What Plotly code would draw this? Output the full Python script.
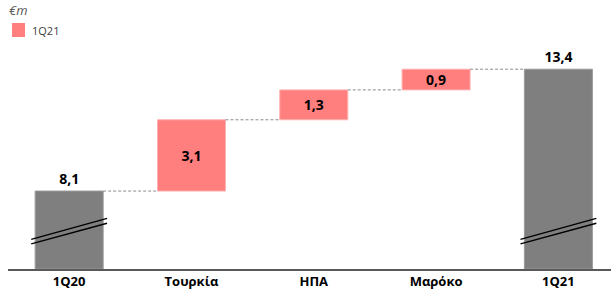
import plotly.graph_objects as go

categories = ["1Q20", "Τουρκία", "ΗΠΑ", "Μαρόκο", "1Q21"]
values = [8.1, 3.1, 1.3, 0.9, 13.4]
measures = ["total", "relative", "relative", "relative", "total"]
legend_name = "1Q21"
unit_label = "€m"

GRAY = "#7f7f7f"
PINK = "#ff7f7f"
FONT = "Open Sans"
BAR_W = 0.556

def fmt(v):
    return f"{v:.1f}".replace(".", ",")

# compute bases / tops
bases, tops = [], []
running = 0.0
for v, m in zip(values, measures):
    if m == "total":
        bases.append(None)
        running = v
        tops.append(v)
    else:
        bases.append(running)
        running = running + v
        tops.append(running)

y_min, y_max = 4.71, 14.67

fig = go.Figure()

tot_idx = [i for i, m in enumerate(measures) if m == "total"]
rel_idx = [i for i, m in enumerate(measures) if m != "total"]

fig.add_trace(go.Bar(
    x=[categories[i] for i in tot_idx],
    y=[values[i] - y_min for i in tot_idx],
    base=[y_min] * len(tot_idx),
    width=BAR_W,
    marker=dict(color=GRAY, line=dict(color="#9a9a9a", width=1)),
    text=[fmt(values[i]) for i in tot_idx],
    textposition="outside",
    textfont=dict(family=FONT, size=14, color="black", weight="bold"),
    cliponaxis=False,
    showlegend=False,
    hoverinfo="skip",
))
fig.add_trace(go.Bar(
    x=[categories[i] for i in rel_idx],
    y=[values[i] for i in rel_idx],
    base=[bases[i] for i in rel_idx],
    width=BAR_W,
    name=legend_name,
    marker=dict(color=PINK, line=dict(color="#ffb0b0", width=1)),
    text=[fmt(values[i]) for i in rel_idx],
    textposition="inside",
    insidetextanchor="middle",
    textfont=dict(family=FONT, size=14, color="black", weight="bold"),
    showlegend=False,
    hoverinfo="skip",
))

shapes = []
# connectors
for i in range(len(categories) - 1):
    shapes.append(dict(
        type="line", xref="x", yref="y",
        x0=i + BAR_W / 2, x1=i + 1 - BAR_W / 2, y0=tops[i], y1=tops[i],
        line=dict(color="#8c8c8c", width=1, dash="3px,2px"),
    ))
# axis break marks on total bars
for i in tot_idx:
    for (ya, yb) in [(5.80, 6.70), (6.00, 6.91)]:
        shapes.append(dict(
            type="line", xref="x", yref="y",
            x0=i - 0.31, x1=i + 0.31, y0=ya, y1=yb,
            line=dict(color="black", width=1.3),
        ))
# legend square
shapes.append(dict(
    type="rect", xref="paper", yref="paper", xsizemode="pixel", ysizemode="pixel",
    xanchor=0.0, yanchor=1.0,
    x0=4, x1=17, y0=3, y1=17,
    fillcolor=PINK, line=dict(width=0),
))

annotations = [
    dict(text=unit_label, xref="paper", yref="paper", x=0.0, y=1.0,
         xanchor="left", yanchor="middle", yshift=30, xshift=-1, showarrow=False,
         font=dict(family=FONT, size=13, color="#595959", style="italic")),
    dict(text=legend_name, xref="paper", yref="paper", x=0.0, y=1.0,
         xanchor="left", yanchor="middle", yshift=10, xshift=22, showarrow=False,
         font=dict(family=FONT, size=11, color="#404040")),
]

fig.update_layout(
    width=611, height=292,
    margin=dict(l=8, r=0, t=40, b=23),
    paper_bgcolor="white", plot_bgcolor="white",
    barmode="overlay",
    shapes=shapes,
    annotations=annotations,
    font=dict(family=FONT),
    uniformtext=dict(minsize=14, mode="show"),
    xaxis=dict(
        type="category", categoryorder="array", categoryarray=categories,
        range=[-0.5, 4.43],
        showline=True, linecolor="#595959", linewidth=1.5,
        showgrid=False, zeroline=False, ticks="",
        tickfont=dict(family=FONT, size=13, color="black", weight="bold"),
    ),
    yaxis=dict(range=[y_min, y_max], visible=False, showgrid=False, zeroline=False),
)

fig.write_html("out.html", config={"displayModeBar": False},
               post_script="document.body.style.margin='0';")
